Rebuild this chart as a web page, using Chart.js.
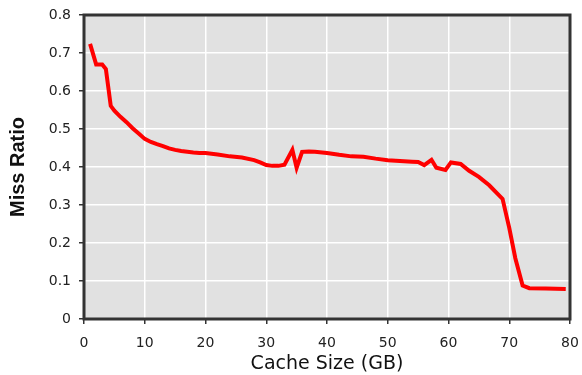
<!DOCTYPE html>
<html>
<head>
<meta charset="utf-8">
<script src="https://cdn.jsdelivr.net/npm/chart.js@4.4.1/dist/chart.umd.min.js"></script>
<style>
  html, body { margin: 0; padding: 0; background: #fff; }
  #wrap { width: 582px; height: 375px; }
</style>
</head>
<body>
<div id="wrap"><canvas id="missChart" width="582" height="375"></canvas></div>
<script>
// Cache size (GB)
const cacheSize = [1, 2, 3, 3.6, 4.4, 5, 6, 7, 8, 9, 10, 11, 12, 13, 14, 15, 16, 17, 18, 19, 20,
  22, 24, 26, 28, 29, 30, 31, 32, 33, 34.3, 35, 35.9, 37, 38, 40, 42, 44, 46, 48, 50, 52, 54, 55,
  56, 57.2, 58, 59.5, 60.4, 62, 63.4, 65, 66.7, 68.9, 70, 71, 72.2, 73.3, 76, 79.3];
// Miss ratio at each cache size
const missRatio = [0.724, 0.67, 0.67, 0.658, 0.561, 0.548, 0.532, 0.518, 0.502, 0.488, 0.474,
  0.466, 0.46, 0.455, 0.449, 0.445, 0.442, 0.44, 0.438, 0.437, 0.437,
  0.433, 0.428, 0.425, 0.418, 0.412, 0.405, 0.403, 0.403, 0.406, 0.445, 0.398, 0.44, 0.441, 0.44,
  0.437, 0.432, 0.428, 0.427, 0.422, 0.418, 0.416, 0.414, 0.413,
  0.405, 0.419, 0.398, 0.392, 0.412, 0.408, 0.39, 0.374, 0.352, 0.316, 0.24, 0.16, 0.088, 0.081,
  0.08, 0.079];

const xTicks = [0, 10, 20, 30, 40, 50, 60, 70, 80];
const yTicks = [0, 0.1, 0.2, 0.3, 0.4, 0.5, 0.6, 0.7, 0.8];

const points = cacheSize.map((x, i) => ({ x: x, y: missRatio[i] }));

// grey plot background and dark frame
const plotFrame = {
  id: 'plotFrame',
  beforeDraw(chart) {
    const a = chart.chartArea;
    const ctx = chart.ctx;
    ctx.save();
    ctx.fillStyle = '#e1e1e1';
    ctx.fillRect(a.left, a.top, a.right - a.left, a.bottom - a.top);
    ctx.restore();
  },
  afterDatasetsDraw(chart) {
    const a = chart.chartArea;
    const ctx = chart.ctx;
    ctx.save();
    ctx.strokeStyle = '#333';
    ctx.lineWidth = 3;
    ctx.strokeRect(a.left, a.top, a.right - a.left, a.bottom - a.top);
    ctx.restore();
  }
};

const tickFont = { family: '"DejaVu Sans", sans-serif', size: 14 };

new Chart(document.getElementById('missChart').getContext('2d'), {
  type: 'line',
  data: {
    datasets: [{
      data: points,
      borderColor: '#ff0000',
      borderWidth: 4,
      pointRadius: 0,
      tension: 0,
      fill: false
    }]
  },
  options: {
    responsive: false,
    animation: false,
    layout: { padding: { top: 15, right: 12, left: 0, bottom: 0 } },
    plugins: {
      legend: { display: false },
      tooltip: { enabled: false }
    },
    scales: {
      x: {
        type: 'linear',
        min: 0,
        max: 80,
        afterBuildTicks: s => { s.ticks = xTicks.map(v => ({ value: v })); },
        afterFit: s => { s.height = 56; s.paddingLeft = 0; s.paddingRight = 0; },
        grid: { color: '#ffffff', lineWidth: 1.5, tickColor: '#333', tickLength: 5 },
        border: { display: false },
        ticks: { font: tickFont, color: '#222', padding: 11, maxRotation: 0 },
        title: {
          display: true,
          text: 'Cache Size (GB)',
          font: { family: '"DejaVu Sans", sans-serif', size: 19 },
          color: '#111',
          padding: { top: 2, bottom: 0 }
        }
      },
      y: {
        min: 0,
        max: 0.8,
        afterBuildTicks: s => { s.ticks = yTicks.map(v => ({ value: v })); },
        afterFit: s => { s.width = 84; s.paddingTop = 0; s.paddingBottom = 0; },
        grid: { color: '#ffffff', lineWidth: 1.5, tickColor: '#333', tickLength: 5 },
        border: { display: false },
        ticks: { font: tickFont, color: '#222', padding: 8, callback: v => String(+v.toFixed(1)) },
        title: {
          display: true,
          text: 'Miss Ratio',
          font: { family: '"Liberation Sans", Arial, sans-serif', size: 20, weight: 'bold' },
          color: '#111',
          padding: { top: 6, bottom: 0 }
        }
      }
    }
  },
  plugins: [plotFrame]
});
</script>
</body>
</html>
